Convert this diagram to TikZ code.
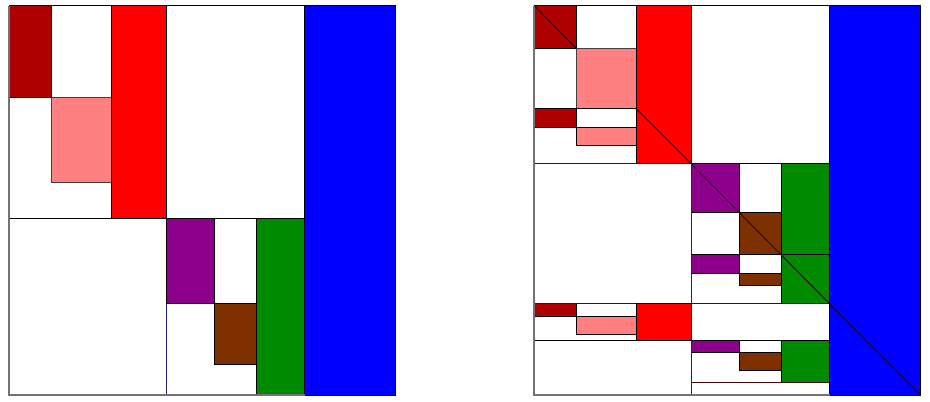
\documentclass[tikz,border=0pt]{standalone}
\definecolor{dred}{RGB}{174,0,0}
\definecolor{pinkc}{RGB}{255,128,128}
\definecolor{redc}{RGB}{255,0,0}
\definecolor{bluec}{RGB}{0,0,255}
\definecolor{purplec}{RGB}{140,0,140}
\definecolor{brownc}{RGB}{126,48,0}
\definecolor{greenc}{RGB}{0,138,0}
\definecolor{edgered}{RGB}{70,10,10}
\definecolor{edgenavy}{RGB}{30,30,110}
\begin{document}
\begin{tikzpicture}[x=1pt,y=-1pt,
  cell/.style={draw=black,line width=1pt},
  diag/.style={draw=black!85!red,line width=0.8pt},
  frameg/.style={draw=black!55,line width=1.2pt}]
\useasboundingbox (0,0) rectangle (930,402);
% ================= LEFT PANEL =================
\begin{scope}
\draw[cell,fill=white] (166,5.5) rectangle (304.5,218);
\draw[cell,fill=white] (9,218) rectangle (166,395);
\draw[cell,fill=white] (9,5.5) rectangle (111,218);
\draw[cell,fill=dred] (9,5.5) rectangle (51,97);
\draw[cell,fill=white] (51,5.5) rectangle (111,97);
\draw[cell,fill=pinkc,draw=black!75] (51,97) rectangle (111,182);
\draw[cell,fill=redc] (111,5.5) rectangle (166,218);
\draw[cell,fill=white] (166,218) rectangle (256,395);
\draw[cell,fill=purplec] (166,218) rectangle (214,303.5);
\draw[cell,fill=white] (214,218) rectangle (256,303.5);
\draw[cell,fill=brownc] (214,303.5) rectangle (256,364.5);
\draw[cell,fill=greenc] (256,218) rectangle (304.5,395);
\draw[cell,fill=bluec] (304.5,5.5) rectangle (395.5,395);
\draw[edgenavy,line width=1pt] (166,303.5) -- (166,395);
\draw[frameg] (9,5.5) -- (9,395) -- (304.5,395);
\draw[cell] (9,5.5) -- (395.5,5.5) -- (395.5,395);
\end{scope}
% ================= RIGHT PANEL =================
\begin{scope}
% top band
\draw[cell,fill=white] (534,5.5) rectangle (636,163.5);
\draw[cell,fill=dred] (534,5.5) rectangle (576,48);
\draw[diag] (534,5.5) -- (576,48);
\draw[cell,fill=white] (576,5.5) rectangle (636,48);
\draw[cell,fill=pinkc,draw=black!75] (576,48) rectangle (636,108.5);
\draw[cell,fill=dred] (534,108.5) rectangle (576,127);
\draw[cell,fill=white] (576,108.5) rectangle (636,127);
\draw[cell,fill=pinkc] (576,127) rectangle (636,145.5);
\draw[cell] (534,108.5) -- (636,108.5);
\draw[cell,fill=redc] (636,5.5) rectangle (691,163.5);
\draw[diag] (636,108.5) -- (691,163.5);
\draw[cell,fill=white] (691,5.5) rectangle (829.5,163.5);
% middle band
\draw[cell,fill=white] (534,163.5) rectangle (691,303.7);
\draw[edgered,line width=1pt] (534,163.5) -- (691,163.5);
\draw[cell,fill=white] (691,163.5) rectangle (829.5,303.7);
\draw[cell,fill=purplec] (691,163.5) rectangle (739,212.3);
\draw[diag] (691,163.5) -- (739,212.3);
\draw[cell,fill=white] (739,163.5) rectangle (781,212.3);
\draw[cell,fill=brownc] (739,212.3) rectangle (781,254.7);
\draw[diag] (739,212.3) -- (781,254.7);
\draw[cell,fill=white] (691,254.7) rectangle (781,303.7);
\draw[cell,fill=purplec] (691,254.7) rectangle (739,273.3);
\draw[cell,fill=white] (739,254.7) rectangle (781,273.3);
\draw[cell,fill=brownc] (739,273.3) rectangle (781,285);
\draw[cell,fill=greenc] (781,163.5) rectangle (829.5,254.7);
\draw[cell,fill=greenc] (781,254.7) rectangle (829.5,303.7);
\draw[diag] (781,254.7) -- (829.5,303.7);
% bottom band
\draw[cell,fill=white] (534,303.7) rectangle (636,340.3);
\draw[cell,fill=dred] (534,303.7) rectangle (576,316);
\draw[cell,fill=white] (576,303.7) rectangle (636,316);
\draw[cell,fill=pinkc] (576,316) rectangle (636,334.3);
\draw[cell,fill=redc] (636,303.7) rectangle (691,340.3);
\draw[cell,fill=white] (691,303.7) rectangle (829.5,340.3);
\draw[edgered,line width=1pt] (534,303.7) -- (636,303.7) (691,303.7) -- (829.5,303.7);
\draw[cell,fill=white] (534,340.3) rectangle (691,395);
\draw[cell,fill=white] (691,340.3) rectangle (781,382.7);
\draw[cell,fill=purplec] (691,340.3) rectangle (739,352.3);
\draw[cell,fill=white] (739,340.3) rectangle (781,352.3);
\draw[cell,fill=brownc] (739,352.3) rectangle (781,370.7);
\draw[cell,fill=greenc] (781,340.3) rectangle (829.5,382.7);
\draw[cell,fill=white] (691,382.7) rectangle (829.5,395);
\draw[edgered,line width=1pt] (691,382.7) -- (829.5,382.7);
\draw[edgenavy,line width=1pt] (691,163.5) -- (691,303.7) (691,340.3) -- (691,395);
% blue column
\draw[cell,fill=bluec] (829.5,5.5) rectangle (920.5,395);
\draw[diag] (829.5,303.7) -- (920.5,395);
\draw[frameg] (534,5.5) -- (534,395) -- (829.5,395);
\draw[cell] (534,5.5) -- (920.5,5.5) -- (920.5,395);
\end{scope}
\end{tikzpicture}
\end{document}
